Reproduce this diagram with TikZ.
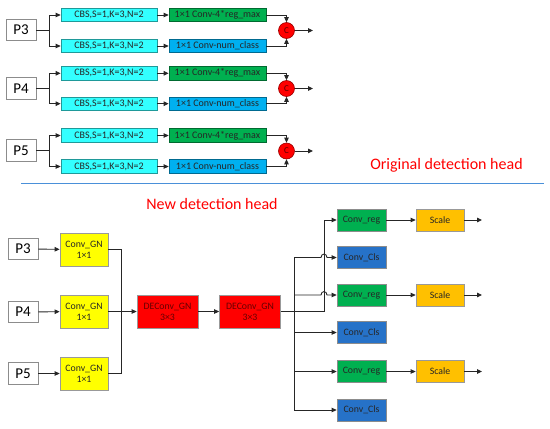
\documentclass[tikz,border=0pt]{standalone}
\usepackage{fontspec}
\setmainfont{Carlito}
\usetikzlibrary{arrows.meta,calc}
\definecolor{cbsc}{HTML}{33FFFF}
\definecolor{grn}{HTML}{00B050}
\definecolor{lblue}{HTML}{00B0F0}
\definecolor{dblue}{HTML}{2672C8}
\definecolor{ylw}{HTML}{FFFF00}
\definecolor{org}{HTML}{FFC000}
\definecolor{sepc}{HTML}{4A90D9}
\tikzset{
  ln/.style={line width=0.9pt, black!85},
  arr/.style={ln, -{Triangle[length=5pt,width=4.5pt]}},
  pbox/.style={draw=black!45, fill=white, line width=0.8pt, minimum width=30pt, minimum height=21.5pt, inner sep=0pt, font=\fontsize{15}{15}\selectfont},
  cbsbox/.style={draw=cbsc!60!black, fill=cbsc, line width=0.7pt, minimum width=96pt, minimum height=13.5pt, inner sep=0pt, font=\fontsize{10}{10}\selectfont, text=black!85},
  regbox/.style={draw=grn!60!black, fill=grn, line width=0.7pt, minimum width=97pt, minimum height=13.5pt, inner sep=0pt, font=\fontsize{10}{10}\selectfont, text=black!85},
  clsbox/.style={draw=lblue!60!black, fill=lblue, line width=0.7pt, minimum width=97pt, minimum height=13.5pt, inner sep=0pt, font=\fontsize{10}{10}\selectfont, text=black!85},
  ccirc/.style={circle, draw=red!60!black, fill=red, line width=0.6pt, minimum size=16pt, inner sep=0pt, font=\fontsize{9}{9}\selectfont, text=red!35!black},
  gnbox/.style={draw=black!40, fill=ylw, line width=0.7pt, minimum width=48pt, minimum height=33pt, inner sep=0pt, align=center, font=\fontsize{9.8}{11}\selectfont, text=black!85},
  debox/.style={draw=black!40, fill=red, line width=0.7pt, minimum width=61pt, minimum height=33pt, inner sep=0pt, align=center, font=\fontsize{9.8}{11}\selectfont, text=red!40!black},
  rgbox/.style={draw=black!45, fill=grn, line width=0.7pt, minimum width=49pt, minimum height=22pt, inner sep=0pt, font=\fontsize{9.8}{10}\selectfont, text=black!85},
  clbox/.style={draw=black!45, fill=dblue, line width=0.7pt, minimum width=49pt, minimum height=22pt, inner sep=0pt, font=\fontsize{9.8}{10}\selectfont, text=black!85},
  scbox/.style={draw=black!40, fill=org, line width=0.7pt, minimum width=48pt, minimum height=22pt, inner sep=0pt, font=\fontsize{9.8}{10}\selectfont, text=black!85},
  title/.style={font=\fontsize{16}{16}\selectfont, text=red}
}
\begin{document}
\begin{tikzpicture}[x=1pt,y=-1pt]
\useasboundingbox (0,0) rectangle (550,429);
% ---------- original head ----------
\foreach \n/\yc/\yt/\yb/\cy in {3/30/15/46/30.5, 4/88.5/73.3/103.7/88.5, 5/150.5/135.5/166.5/151}{
  \node[pbox] (p\n) at (21,\yc) {P\n};
  \node[cbsbox] (ca\n) at (109,\yt) {CBS,S=1,K=3,N=2};
  \node[cbsbox] (cb\n) at (109,\yb) {CBS,S=1,K=3,N=2};
  \node[regbox] (ga\n) at (217.5,\yt) {1×1 Conv-4*reg\_max};
  \node[clsbox] (gb\n) at (217.5,\yb) {1×1 Conv-num\_class};
  \node[ccirc] (c\n) at (286.5,\cy) {C};
  \coordinate (j\n) at (49,\yc);
  \coordinate (o\n) at (313,\cy);
  \draw[ln] (p\n.east) -- (j\n);
  \draw[arr] (j\n) |- (ca\n.west);
  \draw[arr] (j\n) |- (cb\n.west);
  \draw[arr] (ca\n.east) -- (ga\n.west);
  \draw[arr] (cb\n.east) -- (gb\n.west);
  \draw[arr] (ga\n.east) -| (c\n.north);
  \draw[arr] (gb\n.east) -| (c\n.south);
  \draw[arr] (c\n.east) -- (o\n);
}
\node[title] (t1) at (446.5,165) {Original detection head};
\coordinate (s1) at (21,183.3);
\coordinate (s2) at (544,183.3);
\draw[sepc, line width=1.1pt] (s1) -- (s2);
\node[title] (t2) at (212,204) {New detection head};
% ---------- new head ----------
\node[pbox] (q3) at (23,249) {P3};
\node[pbox] (q4) at (23,312) {P4};
\node[pbox] (q5) at (23,373.5) {P5};
\node[gnbox] (g3) at (84,249.5) {Conv\_GN\\1×1};
\node[gnbox] (g4) at (84,311.5) {Conv\_GN\\1×1};
\node[gnbox] (g5) at (84,373.5) {Conv\_GN\\1×1};
\node[debox] (d1) at (167.5,311.5) {DEConv\_GN\\3×3};
\node[debox] (d2) at (250,311.5) {DEConv\_GN\\3×3};
\draw[arr] (q3) -- (g3);
\draw[arr] (q4) -- (g4);
\draw[arr] (q5) -- (g5);
\coordinate (m1) at (121,249.5);
\draw[ln] (g3.east) -- (m1) |- (g5.east);
\draw[arr] (g4.east) -- (d1.west);
\draw[arr] (d1.east) -- (d2.west);
\node[rgbox] (r1) at (361.5,220) {Conv\_reg};
\node[clbox] (k1) at (361.5,257.5) {Conv\_Cls};
\node[rgbox] (r2) at (361.5,295) {Conv\_reg};
\node[clbox] (k2) at (361.5,332.5) {Conv\_Cls};
\node[rgbox] (r3) at (361.5,371.5) {Conv\_reg};
\node[clbox] (k3) at (361.5,410) {Conv\_Cls};
\node[scbox] (s1b) at (440,220) {Scale};
\node[scbox] (s2b) at (440,295) {Scale};
\node[scbox] (s3b) at (440,371.5) {Scale};
\coordinate (tt) at (294,257.5);
\coordinate (tb) at (294,410);
\coordinate (v) at (324,311.5);
\draw[ln] (d2.east) -- (v);
\draw[arr] (v) |- (r1.west);
\draw[ln] (tt) -- (tb);
\draw[arr] (tt) -- ($(k1.west -| v)+(-3,0)$) .. controls +(0,-4.5) and +(0,-4.5) .. ($(k1.west -| v)+(3,0)$) -- (k1.west);
\draw[arr] (r2.west -| tt) -- ($(r2.west -| v)+(-3,0)$) .. controls +(0,-4.5) and +(0,-4.5) .. ($(r2.west -| v)+(3,0)$) -- (r2.west);
\draw[arr] (k2.west -| tt) -- (k2.west);
\draw[arr] (r3.west -| tt) -- (r3.west);
\draw[arr] (tb) -- (k3.west);
\draw[arr] (r1) -- (s1b);
\draw[arr] (r2) -- (s2b);
\draw[arr] (r3) -- (s3b);
\coordinate (e1) at (482,220);
\coordinate (e2) at (482,295);
\coordinate (e3) at (482,371.5);
\draw[arr] (s1b.east) -- (e1);
\draw[arr] (s2b.east) -- (e2);
\draw[arr] (s3b.east) -- (e3);
\end{tikzpicture}
\end{document}
